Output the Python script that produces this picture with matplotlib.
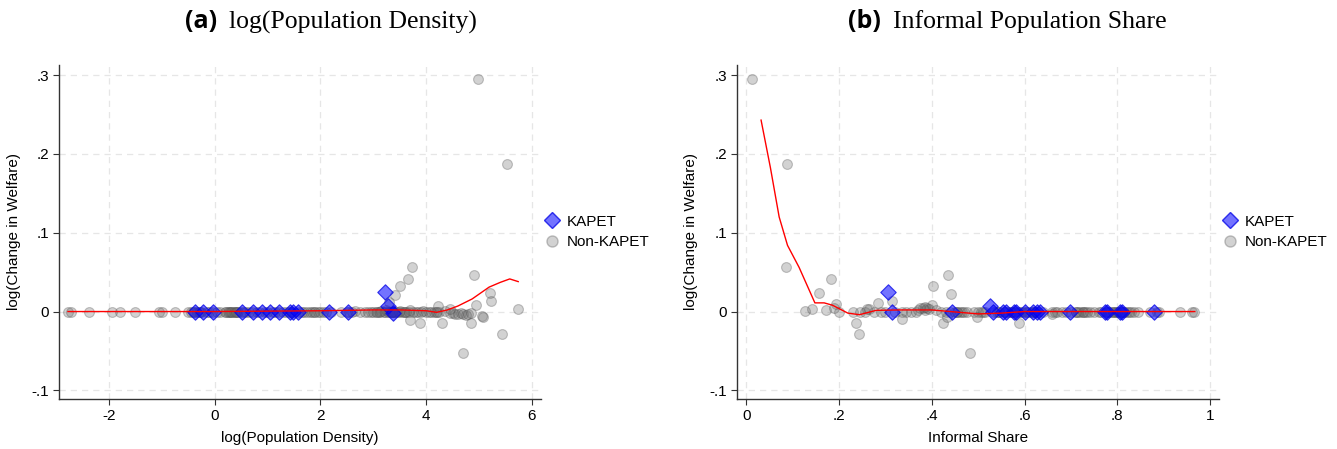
"""
Welfare change vs. population density and informal share, KAPET vs non-KAPET.
Writes out.png (two panels side by side).
"""

import matplotlib
matplotlib.use("Agg")
import matplotlib.pyplot as plt
from matplotlib.lines import Line2D

# ---- panel (a): log(Population Density) ----
a_non_x = [-2.77, -2.72, -2.37, -1.93, -1.78, -1.50, -1.04, -1.00, -0.75, -0.50,
           -0.45, -0.40, -0.33, -0.28, -0.15, -0.10, 0.05, 0.20, 0.25, 0.30,
           0.33, 0.38, 0.42, 0.45, 0.60, 0.65, 0.80, 0.95, 1.10, 1.30,
           1.35, 1.50, 1.65, 1.70, 1.80, 1.85, 1.90, 1.95, 2.00, 2.05,
           2.20, 2.40, 2.55, 2.60, 2.65, 2.75, 2.85, 2.95, 3.00, 3.05,
           3.10, 3.15, 3.20, 3.25, 3.30, 3.35, 3.40, 3.45, 3.50, 3.55,
           3.60, 3.70, 3.80, 3.85, 3.95, 4.00, 4.10, 4.15, 4.20, 4.25,
           4.35, 4.45, 4.50, 4.55, 4.60, 4.65, 4.70, 4.75, 4.80, 4.85,
           4.98, 5.53, 3.74, 3.65, 3.50, 3.41, 4.91, 5.20, 5.23, 4.94,
           5.74, 4.22, 3.70, 3.89, 4.30, 4.85, 5.06, 5.07, 5.43, 4.69,
           3.30, 4.45,
           -0.38, -0.25, -0.05, 0.10, 0.28, 0.36, 0.50, 0.55, 0.85, 1.00,
           1.20, 1.45, 1.60, 1.75, 2.10, 2.50, 2.90, 3.12, 3.28, 3.33,
           3.38, 3.42, 3.62, 3.75, 3.90, 4.05, 4.18,
           -0.30, 0.22, 0.31, 0.40, 0.70, 1.15, 1.40, 1.88, 3.08, 3.22,
           3.36, 3.48, 3.58, 3.68]
a_non_y = [0, 0, 0, 0, 0, 0, 0, 0, 0, 0,
           0, 0, 0, 0, 0, 0, 0, 0, 0, 0,
           0, 0, 0, 0, 0, 0, 0, 0, 0, 0,
           0, 0, 0, 0, 0, 0, 0, 0, 0, 0,
           0, 0, 0, 0, 0.001, 0, 0, 0, 0, 0,
           0, 0.001, 0, 0.002, 0, 0, 0, 0, 0.001, 0,
           0, 0.002, 0, 0, 0.001, 0, 0, 0, 0, 0,
           0.001, -0.002, -0.002, -0.003, -0.003, -0.002, -0.003, -0.004, -0.003, -0.002,
           0.295, 0.187, 0.057, 0.041, 0.032, 0.0215, 0.046, 0.023, 0.014, 0.0085,
           0.003, 0.007, -0.011, -0.015, -0.015, -0.015, -0.006, -0.007, -0.029, -0.052,
           0.012, 0.003,
           0, 0, 0, 0, 0, 0, 0, 0, 0, 0,
           0, 0, 0, 0, 0, 0, 0, 0, 0, 0,
           0, 0, 0, 0, 0, 0, 0,
           0, 0, 0, 0, 0, 0, 0, 0, 0, 0,
           0, 0, 0, 0]
a_kap_x = [-0.36, -0.22, -0.02, 0.52, 0.72, 0.90, 1.05, 1.21, 1.42, 1.49,
           1.58, 2.17, 2.52, 3.23, 3.28, 3.38]
a_kap_y = [0, 0, 0, 0, 0, 0, 0, 0, 0, 0,
           0, 0, 0, 0.0245, 0.0067, -0.002]
a_fit_x = [-2.77, 0.0, 2.0, 3.0, 3.5, 4.0, 4.2, 4.4, 4.6, 4.87, 5.19, 5.4, 5.58, 5.74]
a_fit_y = [0, 0, 0.001, 0.002, 0.002, 0.001, -0.001, 0.002, 0.007, 0.016,
           0.031, 0.037, 0.0414, 0.038]

# ---- panel (b): Informal Population Share ----
b_non_x = [0.20, 0.23, 0.245, 0.255, 0.265, 0.275, 0.29, 0.30, 0.32, 0.335,
           0.345, 0.355, 0.365, 0.37, 0.38, 0.385, 0.39, 0.395, 0.41, 0.42,
           0.43, 0.45, 0.455, 0.46, 0.465, 0.47, 0.475, 0.49, 0.50, 0.505,
           0.51, 0.515, 0.535, 0.545, 0.555, 0.565, 0.57, 0.58, 0.59, 0.60,
           0.61, 0.62, 0.63, 0.64, 0.66, 0.665, 0.67, 0.68, 0.69, 0.71,
           0.72, 0.725, 0.73, 0.74, 0.75, 0.76, 0.765, 0.78, 0.79, 0.795,
           0.80, 0.805, 0.815, 0.82, 0.83, 0.835, 0.845, 0.87, 0.885, 0.89,
           0.935, 0.96, 0.965,
           0.012, 0.087, 0.086, 0.156, 0.183, 0.127, 0.142, 0.173, 0.194, 0.19,
           0.236, 0.244, 0.284, 0.315, 0.26, 0.336, 0.402, 0.436, 0.442, 0.40,
           0.425, 0.433, 0.482, 0.498, 0.587, 0.375, 0.385, 0.66,
           0.44, 0.455, 0.54, 0.56, 0.575, 0.595, 0.615, 0.625, 0.70, 0.725,
           0.735, 0.775, 0.785, 0.80, 0.81, 0.815, 0.825,
           0.545, 0.57, 0.585, 0.605, 0.62, 0.71, 0.715, 0.78, 0.79, 0.81]
b_non_y = [0, 0, 0, 0, 0.003, 0, 0, 0, 0, 0,
           0, 0, 0, 0.002, 0.004, 0.002, 0.005, 0.003, 0.002, 0,
           0, 0, 0, 0, 0, 0, 0, 0, 0, 0,
           0, 0, 0, 0, 0, 0, 0, 0, 0, 0,
           0, 0, 0, 0, 0, 0, 0, 0, 0, 0,
           0, 0, 0, 0, 0, 0, 0, 0, 0, 0,
           0, 0, 0, 0, 0, 0, 0, 0, 0, 0,
           0, 0, 0,
           0.295, 0.187, 0.057, 0.023, 0.041, 0.001, 0.003, 0.0015, 0.010, 0.004,
           -0.015, -0.028, 0.011, 0.014, 0.003, -0.010, 0.032, 0.046, 0.022, 0.008,
           -0.014, -0.007, -0.052, -0.007, -0.014, 0.004, 0.006, -0.003,
           0, 0, 0, 0, 0, 0, 0, 0, 0, 0,
           0, 0, 0, 0, 0, 0, 0,
           0, 0, 0, 0, 0, 0, 0, 0, 0, 0]
b_kap_x = [0.306, 0.315, 0.444, 0.526, 0.532, 0.554, 0.561, 0.577, 0.582, 0.600,
           0.618, 0.626, 0.633, 0.698, 0.773, 0.777, 0.806, 0.81, 0.878]
b_kap_y = [0.025, 0, 0, 0.007, 0, 0, 0, 0, 0, 0,
           0, 0, 0, 0, 0, 0, 0, 0, 0]
b_fit_x = [0.032, 0.052, 0.071, 0.089, 0.114, 0.148, 0.168, 0.186, 0.219, 0.244,
           0.28, 0.33, 0.40, 0.44, 0.50, 0.55, 0.60, 0.80, 0.967]
b_fit_y = [0.243, 0.183, 0.12, 0.084, 0.056, 0.011, 0.011, 0.008, -0.002, -0.004,
           0.0015, 0.002, 0.002, 0.0, -0.003, -0.002, 0, 0, 0]

y_ticks = [-0.1, 0, 0.1, 0.2, 0.3]
y_tick_labels = ["-.1", "0", ".1", ".2", ".3"]
a_ticks = [-2, 0, 2, 4, 6]
a_tick_labels = ["-2", "0", "2", "4", "6"]
b_ticks = [0, 0.2, 0.4, 0.6, 0.8, 1.0]
b_tick_labels = ["0", ".2", ".4", ".6", ".8", "1"]

SANS = ["Liberation Sans", "DejaVu Sans"]
GRAY_FACE = (0.42, 0.42, 0.42, 0.30)
GRAY_EDGE = (0.30, 0.30, 0.30, 0.32)
BLUE_FACE = (0.0, 0.0, 1.0, 0.55)
BLUE_EDGE = (0.0, 0.0, 0.9, 0.75)

plt.rcParams["font.family"] = SANS


def draw_panel(ax, non_x, non_y, kap_x, kap_y, fit_x, fit_y,
               xticks, xlabels, xlim, xlabel):
    ax.scatter(non_x, non_y, s=50, marker="o", facecolor=GRAY_FACE,
               edgecolor=GRAY_EDGE, linewidth=0.8, zorder=3)
    ax.scatter(kap_x, kap_y, s=62, marker="D", facecolor=BLUE_FACE,
               edgecolor=BLUE_EDGE, linewidth=0.8, zorder=4)
    ax.plot(fit_x, fit_y, color="red", linewidth=1.0, zorder=5)

    ax.set_xlim(*xlim)
    ax.set_ylim(-0.111, 0.313)
    ax.set_xticks(xticks)
    ax.set_xticklabels(xlabels)
    ax.set_yticks(y_ticks)
    ax.set_yticklabels(y_tick_labels)
    ax.tick_params(labelsize=11, length=4, width=0.8, color="#333333",
                   direction="out", pad=3)
    ax.grid(True, linestyle=(0, (5, 4)), color="#e6e6e6", linewidth=0.9)
    ax.set_axisbelow(True)
    for side in ("top", "right"):
        ax.spines[side].set_visible(False)
    for side in ("left", "bottom"):
        ax.spines[side].set_color("#333333")
        ax.spines[side].set_linewidth(1.0)
    ax.set_xlabel(xlabel, fontsize=11, labelpad=6)
    ax.set_ylabel("log(Change in Welfare)", fontsize=11, labelpad=8)

    handles = [
        Line2D([], [], linestyle="none", marker="D", markersize=8,
               markerfacecolor=BLUE_FACE, markeredgecolor=BLUE_EDGE),
        Line2D([], [], linestyle="none", marker="o", markersize=8,
               markerfacecolor=GRAY_FACE, markeredgecolor=GRAY_EDGE),
    ]
    ax.legend(handles, ["KAPET", "Non-KAPET"], loc="center left",
              bbox_to_anchor=(0.995, 0.5), frameon=False, fontsize=11,
              handletextpad=0.45, labelspacing=0.45, handlelength=1.0,
              borderpad=0.2, borderaxespad=0.2)


fig = plt.figure(figsize=(13.37, 4.49), dpi=100)
ax_a = fig.add_axes([0.0441, 0.1114, 0.3605, 0.7439])
ax_b = fig.add_axes([0.5512, 0.1114, 0.3605, 0.7439])

draw_panel(ax_a, a_non_x, a_non_y, a_kap_x, a_kap_y, a_fit_x, a_fit_y,
           a_ticks, a_tick_labels, (-2.94, 6.17), "log(Population Density)")
draw_panel(ax_b, b_non_x, b_non_y, b_kap_x, b_kap_y, b_fit_x, b_fit_y,
           b_ticks, b_tick_labels, (-0.02, 1.019), "Informal Share")

# panel titles: bold sans label + serif caption
title_y = 1 - 22 / 449
for lab, cap, x_lab, x_cap in [("(a)", "log(Population Density)", 185, 229),
                               ("(b)", "Informal Population Share", 848, 893)]:
    fig.text(x_lab / 1337, title_y, lab, fontsize=18, fontweight="bold",
             family=["Open Sans", "DejaVu Sans"], va="center", ha="left")
    fig.text(x_cap / 1337, title_y, cap, fontsize=18.5,
             family=["Liberation Serif", "DejaVu Serif"], va="center", ha="left")

fig.savefig("out.png", dpi=100)
plt.close(fig)
